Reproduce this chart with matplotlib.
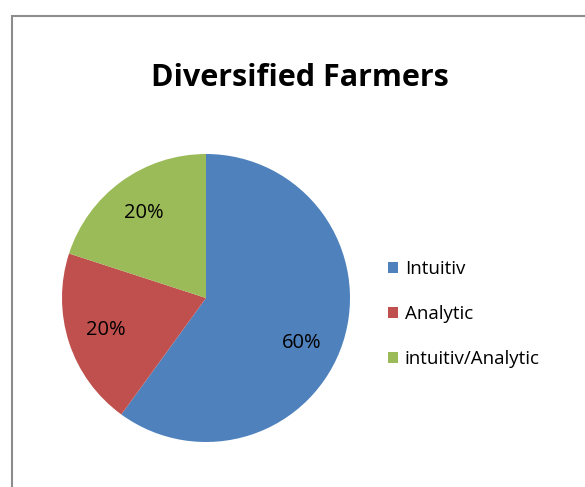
import matplotlib.pyplot as plt
from matplotlib.patches import Rectangle, Patch

labels = ["Intuitiv", "Analytic", "intuitiv/Analytic"]
shares = [60, 20, 20]
colors = ["#4F81BD", "#C0504D", "#9BBB59"]

W, H = 585, 487
fig = plt.figure(figsize=(W / 100, H / 100), dpi=100)
plt.rcParams['font.family'] = ['Open Sans', 'DejaVu Sans']

# chart border (runs off the right and bottom edges)
fig.patches.append(Rectangle((12 / W, -0.1), 1.2, 1.1 - 16 / H,
                             transform=fig.transFigure, fill=False,
                             edgecolor="#8c8c8c", linewidth=1.5))

# pie axes: centre (206, 298), radius 144 px
cx, cy, r = 206, 298, 144
ax = fig.add_axes([(cx - r) / W, (H - cy - r) / H, 2 * r / W, 2 * r / H])
wedges, texts = ax.pie(shares, colors=colors, startangle=90, counterclock=False,
                       labels=[f"{s}%" for s in shares], labeldistance=0.73,
                       wedgeprops=dict(linewidth=0))
for t in texts:
    t.set_fontsize(14.5)
    t.set_ha("center")
    t.set_va("center")
# the big slice's label sits a bit lower in the original
x0, y0 = texts[0].get_position()
texts[0].set_position((x0 - 0.03, y0 - 0.09))
ax.set_xlim(-1, 1)
ax.set_ylim(-1, 1)
ax.set_aspect("equal")

fig.text(300 / W, 1 - 78 / H, "Diversified Farmers", ha="center", va="center",
         fontsize=22, fontweight="bold")

handles = [Patch(facecolor=c, edgecolor="none") for c in colors]
fig.legend(handles, labels, loc="center left", bbox_to_anchor=(371 / W, 1 - 314 / H),
           frameon=False, fontsize=13.5, handlelength=0.55, handleheight=0.55,
           handletextpad=0.35, labelspacing=1.45)

fig.savefig("out.png", dpi=100)
